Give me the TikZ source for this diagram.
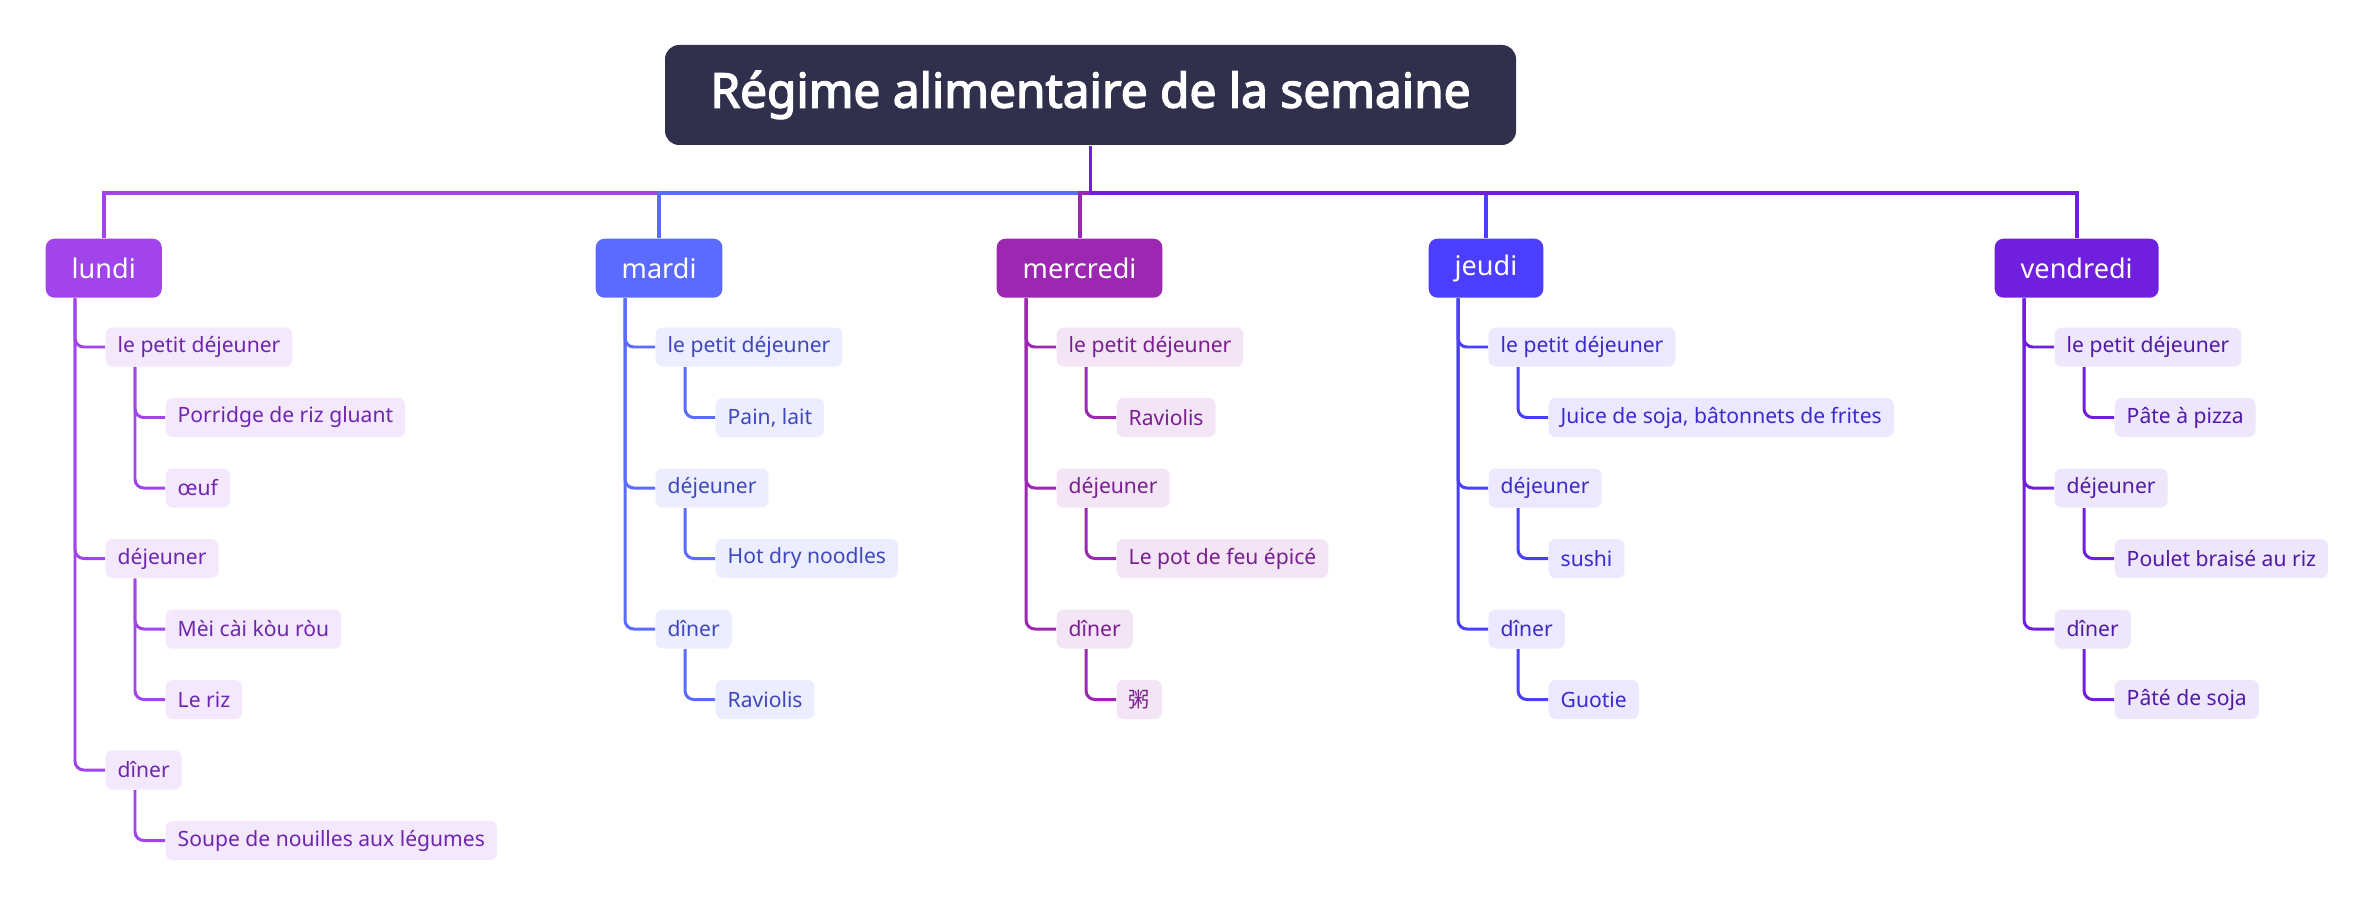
\documentclass[tikz,border=0pt]{standalone}
\usepackage{fontspec}
\setmainfont{Noto Sans}[AutoFakeBold=3]
\newfontfamily\cjkfont{Noto Sans CJK SC}
\definecolor{titlebg}{HTML}{30304C}
\definecolor{lundicol}{HTML}{A144EC}
\definecolor{lundibg}{HTML}{F4E8FD}
\definecolor{lunditxt}{HTML}{6E26AE}
\definecolor{mardicol}{HTML}{5C6BFF}
\definecolor{mardibg}{HTML}{ECEDFF}
\definecolor{marditxt}{HTML}{3E48BC}
\definecolor{mercredicol}{HTML}{9C27B0}
\definecolor{mercredibg}{HTML}{F3E5F5}
\definecolor{mercreditxt}{HTML}{7A1E92}
\definecolor{jeudicol}{HTML}{4B3EFF}
\definecolor{jeudibg}{HTML}{EBE8FF}
\definecolor{jeuditxt}{HTML}{3A2BCC}
\definecolor{vendredicol}{HTML}{701FDE}
\definecolor{vendredibg}{HTML}{EEE6FB}
\definecolor{vendreditxt}{HTML}{4F1AA6}
\usetikzlibrary{positioning}

\tikzset{
  titlebox/.style={fill=titlebg,text=white,rounded corners=4pt,
        minimum width=8.51cm,minimum height=1cm,
        font=\bfseries\fontsize{13.6}{16}\selectfont},
  daybox/.style={fill=#1col,text=white,rounded corners=2.5pt,anchor=north west,
        minimum height=0.59cm,inner xsep=0.26cm,inner ysep=0pt,
        font=\fontsize{7.7}{9}\selectfont},
  itembox/.style={fill=#1bg,text=#1txt,rounded corners=2pt,anchor=west,
        minimum height=0.39cm,inner xsep=0.12cm,inner ysep=0pt,
        font=\fontsize{6}{7}\selectfont},
  bar/.style={draw=#1col,line width=1.1pt},
  branch/.style={draw=#1col,line width=0.85pt,rounded corners=2.5pt}
}

\begin{document}
\begin{tikzpicture}
  \useasboundingbox[fill=white] (0,0) rectangle (23.74,-9.21);

  \node[titlebox] (title) at (10.905,-0.95) {Régime alimentaire de la semaine};
  \coordinate (hub) at ([yshift=-0.47cm]title.south);

  % jours
  \node[daybox=lundi]    (lundi)    at (0.45,-2.38)  {lundi};
  \node[daybox=mardi]    (mardi)    at (5.95,-2.38)  {mardi};
  \node[daybox=mercredi] (mercredi) at (9.96,-2.38)  {mercredi};
  \node[daybox=jeudi]    (jeudi)    at (14.28,-2.38) {jeudi};
  \node[daybox=vendredi] (vendredi) at (19.94,-2.38) {vendredi};

  \draw[bar=lundi]    (title.south) -- (hub) -| (lundi.north);
  \draw[bar=mardi]    (title.south) -- (hub) -| (mardi.north);
  \draw[bar=mercredi] (title.south) -- (hub) -| (mercredi.north);
  \draw[bar=jeudi]    (title.south) -- (hub) -| (jeudi.north);
  \draw[bar=vendredi] (title.south) -- (hub) -| (vendredi.north);

  % lundi
  \node[itembox=lundi] (lun-pd)    at (1.05,-3.47)  {le petit déjeuner};
  \node[itembox=lundi] (lun-pd-1)  at (1.65,-4.175) {Porridge de riz gluant};
  \node[itembox=lundi] (lun-pd-2)  at (1.65,-4.88)  {œuf};
  \node[itembox=lundi] (lun-dej)   at (1.05,-5.585) {déjeuner};
  \node[itembox=lundi] (lun-dej-1) at (1.65,-6.29)  {Mèi cài kòu ròu};
  \node[itembox=lundi] (lun-dej-2) at (1.65,-6.995) {Le riz};
  \node[itembox=lundi] (lun-din)   at (1.05,-7.70)  {dîner};
  \node[itembox=lundi] (lun-din-1) at (1.65,-8.405) {Soupe de nouilles aux légumes};
  \draw[branch=lundi] ([xshift=0.3cm]lundi.south west) |- (lun-pd.west);
  \draw[branch=lundi] ([xshift=0.3cm]lundi.south west) |- (lun-dej.west);
  \draw[branch=lundi] ([xshift=0.3cm]lundi.south west) |- (lun-din.west);
  \draw[branch=lundi] ([xshift=0.3cm]lun-pd.south west) |- (lun-pd-1.west);
  \draw[branch=lundi] ([xshift=0.3cm]lun-pd.south west) |- (lun-pd-2.west);
  \draw[branch=lundi] ([xshift=0.3cm]lun-dej.south west) |- (lun-dej-1.west);
  \draw[branch=lundi] ([xshift=0.3cm]lun-dej.south west) |- (lun-dej-2.west);
  \draw[branch=lundi] ([xshift=0.3cm]lun-din.south west) |- (lun-din-1.west);

  % mardi
  \node[itembox=mardi] (mar-pd)    at (6.55,-3.47)  {le petit déjeuner};
  \node[itembox=mardi] (mar-pd-1)  at (7.15,-4.175) {Pain, lait};
  \node[itembox=mardi] (mar-dej)   at (6.55,-4.88)  {déjeuner};
  \node[itembox=mardi] (mar-dej-1) at (7.15,-5.585) {Hot dry noodles};
  \node[itembox=mardi] (mar-din)   at (6.55,-6.29)  {dîner};
  \node[itembox=mardi] (mar-din-1) at (7.15,-6.995) {Raviolis};
  \draw[branch=mardi] ([xshift=0.3cm]mardi.south west) |- (mar-pd.west);
  \draw[branch=mardi] ([xshift=0.3cm]mardi.south west) |- (mar-dej.west);
  \draw[branch=mardi] ([xshift=0.3cm]mardi.south west) |- (mar-din.west);
  \draw[branch=mardi] ([xshift=0.3cm]mar-pd.south west) |- (mar-pd-1.west);
  \draw[branch=mardi] ([xshift=0.3cm]mar-dej.south west) |- (mar-dej-1.west);
  \draw[branch=mardi] ([xshift=0.3cm]mar-din.south west) |- (mar-din-1.west);

  % mercredi
  \node[itembox=mercredi] (mer-pd)    at (10.56,-3.47)  {le petit déjeuner};
  \node[itembox=mercredi] (mer-pd-1)  at (11.16,-4.175) {Raviolis};
  \node[itembox=mercredi] (mer-dej)   at (10.56,-4.88)  {déjeuner};
  \node[itembox=mercredi] (mer-dej-1) at (11.16,-5.585) {Le pot de feu épicé};
  \node[itembox=mercredi] (mer-din)   at (10.56,-6.29)  {dîner};
  \node[itembox=mercredi] (mer-din-1) at (11.16,-6.995) {\cjkfont 粥};
  \draw[branch=mercredi] ([xshift=0.3cm]mercredi.south west) |- (mer-pd.west);
  \draw[branch=mercredi] ([xshift=0.3cm]mercredi.south west) |- (mer-dej.west);
  \draw[branch=mercredi] ([xshift=0.3cm]mercredi.south west) |- (mer-din.west);
  \draw[branch=mercredi] ([xshift=0.3cm]mer-pd.south west) |- (mer-pd-1.west);
  \draw[branch=mercredi] ([xshift=0.3cm]mer-dej.south west) |- (mer-dej-1.west);
  \draw[branch=mercredi] ([xshift=0.3cm]mer-din.south west) |- (mer-din-1.west);

  % jeudi
  \node[itembox=jeudi] (jeu-pd)    at (14.88,-3.47)  {le petit déjeuner};
  \node[itembox=jeudi] (jeu-pd-1)  at (15.48,-4.175) {Juice de soja, bâtonnets de frites};
  \node[itembox=jeudi] (jeu-dej)   at (14.88,-4.88)  {déjeuner};
  \node[itembox=jeudi] (jeu-dej-1) at (15.48,-5.585) {sushi};
  \node[itembox=jeudi] (jeu-din)   at (14.88,-6.29)  {dîner};
  \node[itembox=jeudi] (jeu-din-1) at (15.48,-6.995) {Guotie};
  \draw[branch=jeudi] ([xshift=0.3cm]jeudi.south west) |- (jeu-pd.west);
  \draw[branch=jeudi] ([xshift=0.3cm]jeudi.south west) |- (jeu-dej.west);
  \draw[branch=jeudi] ([xshift=0.3cm]jeudi.south west) |- (jeu-din.west);
  \draw[branch=jeudi] ([xshift=0.3cm]jeu-pd.south west) |- (jeu-pd-1.west);
  \draw[branch=jeudi] ([xshift=0.3cm]jeu-dej.south west) |- (jeu-dej-1.west);
  \draw[branch=jeudi] ([xshift=0.3cm]jeu-din.south west) |- (jeu-din-1.west);

  % vendredi
  \node[itembox=vendredi] (ven-pd)    at (20.54,-3.47)  {le petit déjeuner};
  \node[itembox=vendredi] (ven-pd-1)  at (21.14,-4.175) {Pâte à pizza};
  \node[itembox=vendredi] (ven-dej)   at (20.54,-4.88)  {déjeuner};
  \node[itembox=vendredi] (ven-dej-1) at (21.14,-5.585) {Poulet braisé au riz};
  \node[itembox=vendredi] (ven-din)   at (20.54,-6.29)  {dîner};
  \node[itembox=vendredi] (ven-din-1) at (21.14,-6.995) {Pâté de soja};
  \draw[branch=vendredi] ([xshift=0.3cm]vendredi.south west) |- (ven-pd.west);
  \draw[branch=vendredi] ([xshift=0.3cm]vendredi.south west) |- (ven-dej.west);
  \draw[branch=vendredi] ([xshift=0.3cm]vendredi.south west) |- (ven-din.west);
  \draw[branch=vendredi] ([xshift=0.3cm]ven-pd.south west) |- (ven-pd-1.west);
  \draw[branch=vendredi] ([xshift=0.3cm]ven-dej.south west) |- (ven-dej-1.west);
  \draw[branch=vendredi] ([xshift=0.3cm]ven-din.south west) |- (ven-din-1.west);
\end{tikzpicture}
\end{document}
